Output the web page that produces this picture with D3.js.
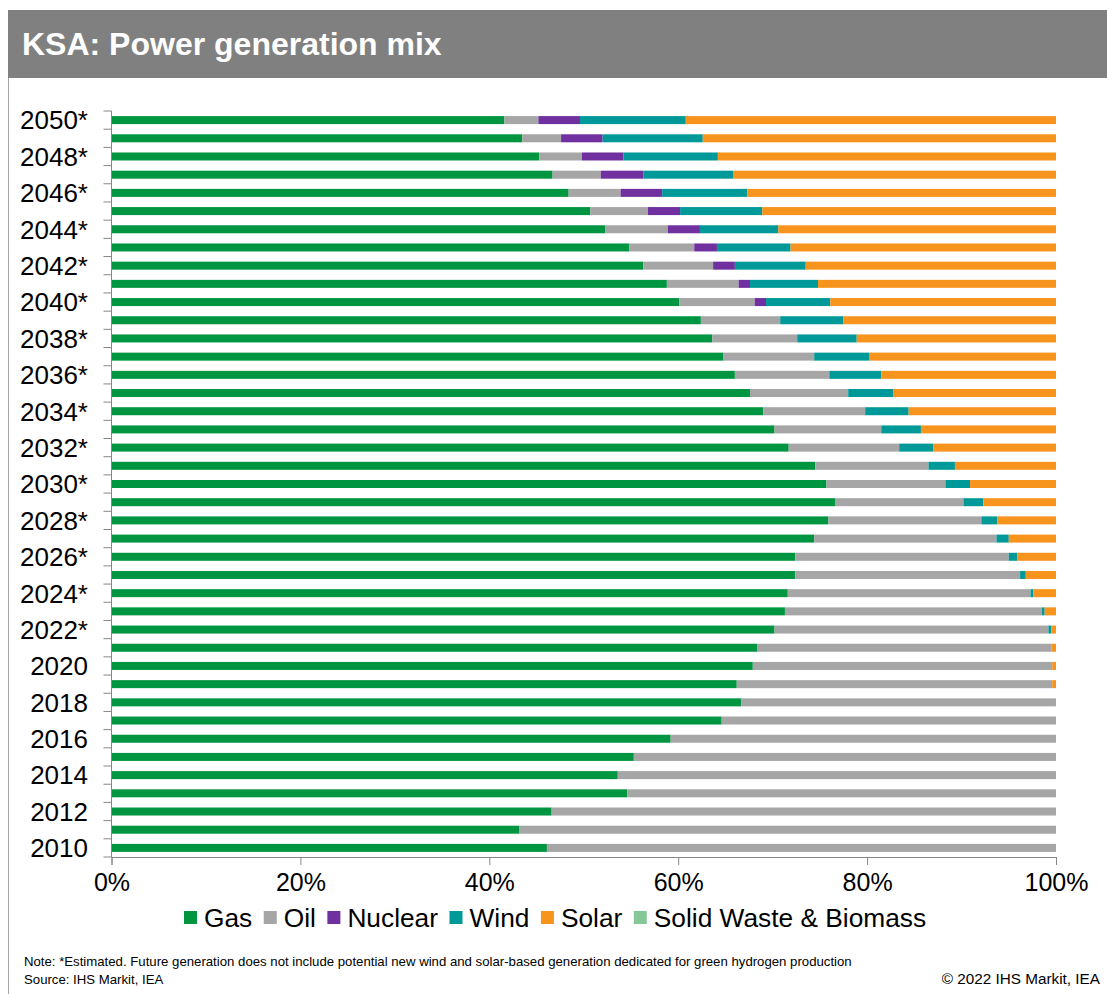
<!DOCTYPE html>
<html>
<head>
<meta charset="utf-8">
<script src="https://cdn.jsdelivr.net/npm/d3@7"></script>
<style>
  html, body { margin: 0; padding: 0; background: #fff; }
  svg { display: block; font-family: "Liberation Sans", Arial, sans-serif; }
</style>
</head>
<body>
<svg id="chart" width="1107" height="994"></svg>
<script>
// ---- Data (share of generation, %) ----
const years = [2010, 2011, 2012, 2013, 2014, 2015, 2016, 2017, 2018, 2019,
               2020, 2021, 2022, 2023, 2024, 2025, 2026, 2027, 2028, 2029,
               2030, 2031, 2032, 2033, 2034, 2035, 2036, 2037, 2038, 2039,
               2040, 2041, 2042, 2043, 2044, 2045, 2046, 2047, 2048, 2049, 2050];
const estimatedFrom = 2022;
const seriesNames = ["Gas", "Oil", "Nuclear", "Wind", "Solar", "Solid Waste & Biomass"];
const seriesColors = ["#009641", "#a6a6a6", "#7030a0", "#009999", "#f7941d", "#86c797"];

const gas = [46.1, 43.2, 46.6, 54.6, 53.6, 55.3, 59.2, 64.6, 66.7, 66.2,
             67.9, 68.4, 70.2, 71.3, 71.6, 72.4, 72.4, 74.4, 75.9, 76.6,
             75.7, 74.5, 71.7, 70.2, 69.0, 67.6, 66.0, 64.8, 63.6, 62.4,
             60.1, 58.8, 56.3, 54.8, 52.3, 50.7, 48.4, 46.7, 45.3, 43.5, 41.6];
const oil = [53.9, 56.8, 53.4, 45.4, 46.4, 44.7, 40.8, 35.4, 33.2, 33.4,
             31.7, 31.1, 29.0, 27.2, 25.7, 23.8, 22.6, 19.3, 16.2, 13.6,
             12.6, 12.0, 11.7, 11.3, 10.8, 10.4, 10.0, 9.6, 9.0, 8.4,
             8.0, 7.6, 7.4, 6.9, 6.6, 6.1, 5.5, 5.1, 4.5, 4.1, 3.6];
const nuclear = [0, 0, 0, 0, 0, 0, 0, 0, 0, 0,
                 0, 0, 0, 0, 0, 0, 0, 0, 0, 0,
                 0, 0, 0, 0, 0, 0, 0, 0, 0, 0,
                 1.2, 1.2, 2.3, 2.4, 3.4, 3.4, 4.4, 4.5, 4.4, 4.4, 4.4];
const wind = [0, 0, 0, 0, 0, 0, 0, 0, 0, 0,
              0, 0, 0.3, 0.3, 0.3, 0.6, 0.9, 1.3, 1.7, 2.1,
              2.6, 2.8, 3.6, 4.2, 4.6, 4.8, 5.5, 5.8, 6.3, 6.7,
              6.8, 7.2, 7.5, 7.8, 8.3, 8.7, 9.0, 9.5, 10.0, 10.6, 11.2];
const solar = [0, 0, 0, 0, 0, 0, 0, 0, 0.1, 0.4,
               0.4, 0.5, 0.5, 1.2, 2.4, 3.2, 4.1, 5.0, 6.2, 7.7,
               9.1, 10.7, 13.0, 14.3, 15.6, 17.2, 18.5, 19.8, 21.1, 22.5,
               23.9, 25.2, 26.5, 28.1, 29.4, 31.1, 32.7, 34.2, 35.8, 37.4, 39.2];
const biomass = [0, 0, 0, 0, 0, 0, 0, 0, 0, 0,
                 0, 0, 0, 0, 0, 0, 0, 0, 0, 0,
                 0, 0, 0, 0, 0, 0, 0, 0, 0, 0,
                 0, 0, 0, 0, 0, 0, 0, 0, 0, 0, 0];
const xTicks = [0, 20, 40, 60, 80, 100];

const title = "KSA: Power generation mix";
const note = "Note: *Estimated. Future generation does not include potential new wind and solar-based generation dedicated for green hydrogen production";
const source = "Source: IHS Markit, IEA";
const copyright = "\u00a9 2022 IHS Markit, IEA";

// ---- Build table ----
const seriesValues = [gas, oil, nuclear, wind, solar, biomass];
const rows = years.map((y, i) => {
  const r = { year: y };
  seriesNames.forEach((k, j) => r[k] = seriesValues[j][i]);
  return r;
});
const stacked = d3.stack().keys(seriesNames)(rows);
const yearLabel = y => y >= estimatedFrom ? y + "*" : String(y);

// ---- Layout ----
const svg = d3.select("#chart");
const W = 1107, H = 994;
const plot = { left: 111.5, right: 1056, top: 111, bottom: 857 };

// Header band and frame
svg.append("rect").attr("x", 8).attr("y", 10).attr("width", W - 8).attr("height", 68).attr("fill", "#808080");
svg.append("line").attr("x1", 8.5).attr("x2", 8.5).attr("y1", 78).attr("y2", H)
  .attr("stroke", "#a6a6a6").attr("stroke-width", 1);
svg.append("text").attr("x", 22).attr("y", 55).attr("fill", "#fff")
  .attr("font-size", 32).attr("font-weight", "bold").text(title);

const x = d3.scaleLinear().domain([0, 100]).range([plot.left, plot.right]);
const y = d3.scaleBand().domain(years.slice().reverse())
  .range([plot.top, plot.bottom]).paddingInner(0.56).paddingOuter(0.28);

// Bars
const g = svg.append("g");
g.selectAll("g.series").data(stacked).join("g")
  .attr("class", "series")
  .attr("fill", (d, i) => seriesColors[i])
  .selectAll("rect").data(d => d.filter(p => p[1] - p[0] > 0)).join("rect")
  .attr("x", d => x(d[0]))
  .attr("width", d => x(d[1]) - x(d[0]))
  .attr("y", d => y(d.data.year))
  .attr("height", y.bandwidth());

// Y axis line and ticks at band boundaries
const axisColor = "#868686";
svg.append("line").attr("x1", plot.left).attr("x2", plot.left)
  .attr("y1", plot.top).attr("y2", plot.bottom).attr("stroke", axisColor);
const step = y.step();
const bounds = d3.range(years.length + 1).map(i => plot.top + i * step);
svg.append("g").selectAll("line").data(bounds).join("line")
  .attr("x1", plot.left - 8).attr("x2", plot.left)
  .attr("y1", d => d).attr("y2", d => d).attr("stroke", axisColor);

// Y labels (every other year)
svg.append("g").selectAll("text").data(years.filter(yy => (yy - years[0]) % 2 === 0)).join("text")
  .attr("x", 88).attr("y", d => y(d) + y.bandwidth() / 2)
  .attr("dy", "0.36em").attr("text-anchor", "end")
  .attr("font-size", 26).attr("fill", "#000")
  .text(yearLabel);

// X axis
const xAxis = d3.axisBottom(x).tickValues(xTicks).tickSize(8).tickPadding(8)
  .tickFormat(d => d + "%");
const xg = svg.append("g").attr("transform", `translate(0,${plot.bottom})`).call(xAxis);
xg.select(".domain").attr("stroke", axisColor);
xg.selectAll(".tick line").attr("stroke", axisColor);
xg.selectAll(".tick text").attr("font-size", 25).attr("fill", "#000")
  .attr("font-family", "Liberation Sans, Arial, sans-serif");

// Legend
const legend = svg.append("g").attr("transform", "translate(184,911)");
let lx = 0;
seriesNames.forEach((name, i) => {
  legend.append("rect").attr("x", lx).attr("y", 0).attr("width", 13).attr("height", 13)
    .attr("fill", seriesColors[i]);
  const t = legend.append("text").attr("x", lx + 20).attr("y", 15.5)
    .attr("font-size", 26.3).attr("fill", "#000").text(name);
  lx += 20 + t.node().getComputedTextLength() + 11.5;
});

// Footnotes
svg.append("text").attr("x", 24).attr("y", 966).attr("font-size", 13.2).attr("fill", "#000").text(note);
svg.append("text").attr("x", 24).attr("y", 984).attr("font-size", 13.2).attr("fill", "#000").text(source);
svg.append("text").attr("x", 1100).attr("y", 984).attr("font-size", 15.3).attr("fill", "#000")
  .attr("text-anchor", "end").text(copyright);
</script>
</body>
</html>
